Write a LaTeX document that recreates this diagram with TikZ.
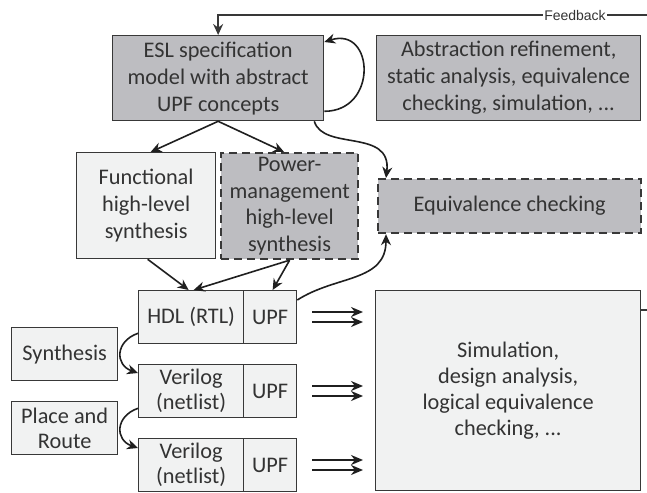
\documentclass[tikz,border=0pt]{standalone}
\usepackage{fontspec}
\setmainfont{Carlito}
\newfontfamily\fbfont{Liberation Sans}
\usetikzlibrary{arrows.meta}
\definecolor{boxgray}{HTML}{BDBDC1}
\definecolor{boxlight}{HTML}{F1F2F2}
\definecolor{edgec}{HTML}{383838}
\definecolor{txtc}{HTML}{333333}
\begin{document}
\begin{tikzpicture}[x=1pt,y=-1pt,
 base/.style={draw=edgec, line width=1.3pt, text=txtc, align=center, inner sep=0pt, anchor=north west, font=\fontsize{22.3}{27}\selectfont},
 graybox/.style={base, fill=boxgray},
 lightbox/.style={base, fill=boxlight},
 dashbox/.style={base, fill=boxgray, line width=2.2pt, dash pattern=on 8pt off 5pt},
 arr/.style={-{Stealth[length=11pt,width=10pt]}, line width=1.6pt, black!88},
 darr/.style={-{Stealth[length=12pt,width=10pt]}, line width=2pt, black!88},
]
\useasboundingbox (0,0) rectangle (647,492);

% boxes
\node[graybox, minimum width=211pt, minimum height=85pt] (esl) at (112,35) {ESL specification\\model with abstract\\UPF concepts};
\node[graybox, minimum width=264pt, minimum height=85pt] (abs) at (376,35) {Abstraction refinement,\\static analysis, equivalence\\checking, simulation, ...};
\node[lightbox, minimum width=139pt, minimum height=106pt] (func) at (76,152) {Functional\\high-level\\synthesis};
\node[dashbox, minimum width=137pt, minimum height=106pt, font=\fontsize{22.3}{26.5}\selectfont] (pow) at (220,152) {Power-\\management\\high-level\\synthesis};
\node[dashbox, minimum width=263pt, minimum height=54pt] (equiv) at (377,178) {Equivalence checking};

\node[lightbox, minimum width=105pt, minimum height=53pt, font=\fontsize{22.3}{25}\selectfont] (hdl) at (138,290) {HDL (RTL)};
\node[lightbox, minimum width=53pt, minimum height=53pt, font=\fontsize{22.3}{25}\selectfont] (upfa) at (243,290) {UPF};
\node[lightbox, minimum width=105pt, minimum height=53pt, font=\fontsize{22.3}{25}\selectfont] (vera) at (138,364) {Verilog\\(netlist)};
\node[lightbox, minimum width=53pt, minimum height=53pt, font=\fontsize{22.3}{25}\selectfont] (upfb) at (243,364) {UPF};
\node[lightbox, minimum width=105pt, minimum height=53pt, font=\fontsize{22.3}{25}\selectfont] (verb) at (138,438) {Verilog\\(netlist)};
\node[lightbox, minimum width=53pt, minimum height=53pt, font=\fontsize{22.3}{25}\selectfont] (upfc) at (243,438) {UPF};

\node[lightbox, minimum width=106pt, minimum height=53pt, font=\fontsize{22.3}{25}\selectfont] (synth) at (11,327) {Synthesis};
\node[lightbox, minimum width=106pt, minimum height=53pt, font=\fontsize{22.3}{25}\selectfont] (pnr) at (11,401) {Place and\\Route};

\node[lightbox, minimum width=265pt, minimum height=200pt, font=\fontsize{22.3}{26}\selectfont] (sim) at (375,290) {Simulation,\\design analysis,\\logical equivalence\\checking, ...};

% feedback
\coordinate (fbR) at (647,15);
\draw[arr, edgec] (fbR) -| (esl.north);
\node[fill=white, inner sep=1.2pt, text=txtc, font=\fbfont\fontsize{14}{14}\selectfont] (fb) at (575,15) {Feedback};

% self loop
\draw[arr] ([yshift=10pt]esl.south east) .. controls +(54,0) and +(50,-16) .. ([yshift=-7pt]esl.north east);
% ESL to equivalence
\draw[arr] ([xshift=-10pt]esl.south east) .. controls +(9,30) and +(6,-50) .. ([xshift=9pt]equiv.north west);
% ESL to syntheses
\draw[arr] (esl.south) -- ([xshift=4.5pt]func.north);
\draw[arr] (esl.south) -- ([xshift=-5.5pt]pow.north);
% to HDL / UPF
\draw[arr] ([xshift=1.5pt]func.south) -- ([xshift=-2.5pt]hdl.north);
\draw[arr] (pow.south) -- ([xshift=2.5pt]hdl.north);
\draw[arr] (pow.south) -- ([xshift=2.5pt]upfa.north);
% UPF to equivalence
\draw[arr] ([yshift=-10pt]upfa.north east) .. controls +(39,-25) and +(0,48) .. ([xshift=9pt]equiv.south west);
% synthesis / place and route arrows
\draw[arr] ([yshift=11pt]hdl.south west) .. controls +(-23,8) and +(-23,-8) .. ([yshift=-9pt]vera.north west);
\draw[arr] ([yshift=10pt]vera.south west) .. controls +(-23,8) and +(-23,-8) .. ([yshift=-10pt]verb.north west);

% double arrows
\coordinate (d1a) at (312,312); \coordinate (d1b) at (363,312);
\coordinate (d2a) at (312,322); \coordinate (d2b) at (363,322);
\coordinate (d3a) at (312,386); \coordinate (d3b) at (363,386);
\coordinate (d4a) at (312,396); \coordinate (d4b) at (363,396);
\coordinate (d5a) at (312,460); \coordinate (d5b) at (363,460);
\coordinate (d6a) at (312,470); \coordinate (d6b) at (363,470);
\draw[darr] (d1a) -- (d1b);
\draw[darr] (d2a) -- (d2b);
\draw[darr] (d3a) -- (d3b);
\draw[darr] (d4a) -- (d4b);
\draw[darr] (d5a) -- (d5b);
\draw[darr] (d6a) -- (d6b);

% cut-off line at right of simulation box
\coordinate (tickR) at (647,310);
\draw[line width=1.3pt, edgec] ([yshift=-20pt]sim.north east) -- (tickR);
\end{tikzpicture}
\end{document}
